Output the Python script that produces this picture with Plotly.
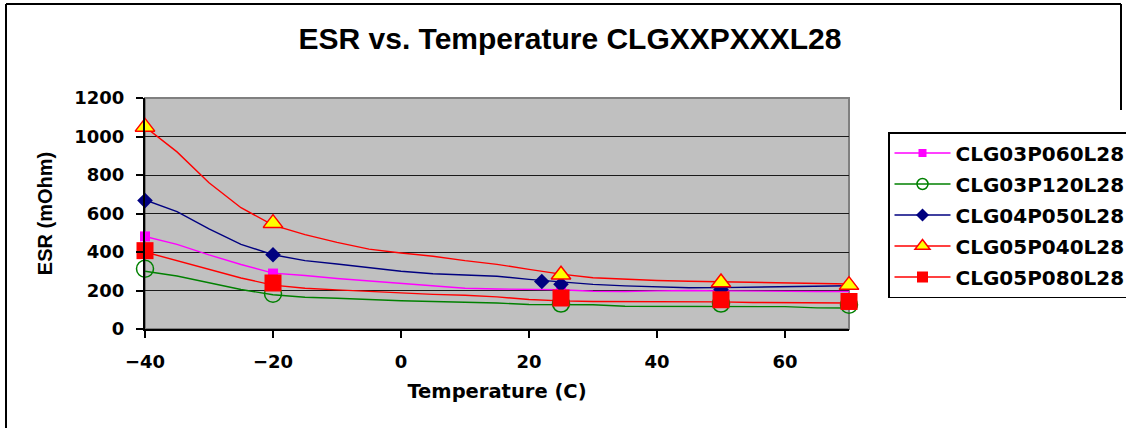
import plotly.graph_objects as go

# ---------------- data ----------------
temps = [-40, -35, -30, -25, -20, -15, -10, -5, 0, 5, 10, 15, 20, 25, 30, 35, 40, 45, 50, 55, 60, 65, 70]

line_03p060 = [481, 440, 385, 335, 290, 278, 262, 250, 238, 226, 212, 208, 206, 204, 196, 195, 198, 200, 198, 196, 195, 195, 195]
line_03p120 = [300, 275, 240, 205, 178, 165, 160, 152, 147, 143, 140, 135, 127, 126, 126, 118, 117, 117, 117, 117, 116, 110, 109]
line_04p050 = [670, 610, 520, 440, 386, 355, 338, 320, 300, 287, 280, 274, 258, 244, 232, 224, 220, 214, 215, 217, 218, 222, 225]
line_05p040 = [1050, 920, 760, 630, 540, 490, 450, 415, 395, 378, 355, 336, 310, 285, 266, 258, 252, 248, 246, 242, 239, 236, 234]
line_05p080 = [400, 355, 310, 265, 228, 212, 203, 195, 187, 180, 175, 167, 153, 146, 143, 143, 143, 143, 141, 138, 136, 135, 135]

pts_03p060_x = [-40, -20, 25]
pts_03p060_y = [481, 288, 205]
pts_03p120_x = [-40, -20, 25, 50, 70]
pts_03p120_y = [313, 183, 132, 132, 126]
pts_04p050_x = [-40, -20, 22, 25, 50]
pts_04p050_y = [667, 386, 247, 232, 205]
pts_05p040_x = [-40, -20, 25, 50, 70]
pts_05p040_y = [1050, 550, 282, 242, 228]
pts_05p080_x = [-40, -20, 25, 50, 70]
pts_05p080_y = [407, 239, 161, 152, 143]

names = ["CLG03P060L28", "CLG03P120L28", "CLG04P050L28", "CLG05P040L28", "CLG05P080L28"]
x_ticks = [-40, -20, 0, 20, 40, 60]
y_ticks = [0, 200, 400, 600, 800, 1000, 1200]

# ---------------- styles ----------------
styles = [
    dict(color="#ff00ff", symbol="square", size=10, fill="#ff00ff", lw=0, lsize=8),
    dict(color="#008000", symbol="circle-open", size=17, fill="#008000", lw=1.5, lsize=11),
    dict(color="#000080", symbol="diamond", size=12, fill="#000080", lw=0, lsize=10),
    dict(color="#ff0000", symbol="triangle-up", size=17, fill="#ffff00", lw=1.5, lsize=13),
    dict(color="#ff0000", symbol="square", size=17, fill="#ff0000", lw=0, lsize=11),
]
lines = [line_03p060, line_03p120, line_04p050, line_05p040, line_05p080]
pts = [
    (pts_03p060_x, pts_03p060_y),
    (pts_03p120_x, pts_03p120_y),
    (pts_04p050_x, pts_04p050_y),
    (pts_05p040_x, pts_05p040_y),
    (pts_05p080_x, pts_05p080_y),
]

fig = go.Figure()

for name, ys, st in zip(names, lines, styles):
    fig.add_trace(go.Scatter(
        x=temps, y=ys, mode="lines", name=name, legendgroup=name, showlegend=False,
        line=dict(color=st["color"], width=1.4), hoverinfo="skip"))

for name, (px, py), st in zip(names, pts, styles):
    fig.add_trace(go.Scatter(
        x=px, y=py, mode="markers", name=name, legendgroup=name, showlegend=False,
        cliponaxis=False,
        marker=dict(symbol=st["symbol"], size=st["size"], color=st["fill"],
                    line=dict(color=st["color"], width=st["lw"]))))

for name, st in zip(names, styles):
    fig.add_trace(go.Scatter(
        x=[None], y=[None], mode="lines+markers", name=name, legendgroup=name,
        line=dict(color=st["color"], width=1.4),
        marker=dict(symbol=st["symbol"], size=st["lsize"], color=st["fill"],
                    line=dict(color=st["color"], width=st["lw"]))))

W, H = 1126, 428
L, R, T, B = 145, 849, 98, 329
pw, ph = R - L, B - T


def px2x(p):
    return (p - L) / pw


def py2y(p):
    return (B - p) / ph


bold = dict(family="DejaVu Sans", weight="bold", color="black")

fig.update_layout(
    width=W, height=H,
    margin=dict(l=L, r=W - R, t=T, b=H - B, autoexpand=False),
    paper_bgcolor="white",
    plot_bgcolor="#c0c0c0",
    title=dict(text="ESR vs. Temperature CLGXXPXXXL28", x=570 / W, xref="container",
               xanchor="center", y=1 - 38 / H, yref="container", yanchor="middle",
               font=dict(family="Liberation Sans", weight="bold", size=30, color="black")),
    xaxis=dict(range=[-40, 70], tickvals=x_ticks, showgrid=False, zeroline=False,
               ticks="outside", ticklen=7, tickwidth=1.5, tickcolor="black",
               showline=True, linecolor="black", linewidth=2,
               tickfont=dict(size=18, **bold), ticklabelstandoff=8,
               title=dict(text="Temperature (C)", font=dict(size=19.5, **bold), standoff=14)),
    yaxis=dict(range=[0, 1200], tickvals=y_ticks, showgrid=True, gridcolor="#1a1a1a",
               gridwidth=1.3, zeroline=False,
               ticks="outside", ticklen=7, tickwidth=1.5, tickcolor="black",
               showline=True, linecolor="black", linewidth=2,
               tickfont=dict(size=18, **bold), ticklabelstandoff=8,
               title=dict(text="ESR (mOhm)",
                          font=dict(family="Liberation Sans", weight="bold", size=20, color="black"),
                          standoff=16)),
    legend=dict(x=px2x(888), y=py2y(132), xanchor="left", yanchor="top",
                xref="paper", yref="paper",
                bordercolor="black", borderwidth=1.5, bgcolor="white",
                font=dict(size=20, **bold), traceorder="grouped", tracegroupgap=2,
                itemwidth=56),
    showlegend=True,
    shapes=[
        dict(type="rect", xref="paper", yref="paper", x0=0, x1=1, y0=0, y1=1,
             line=dict(color="#808080", width=2), layer="below"),
        dict(type="line", xref="paper", yref="paper", x0=px2x(6), x1=px2x(6),
             y0=py2y(4), y1=py2y(H + 5), line=dict(color="black", width=2)),
        dict(type="line", xref="paper", yref="paper", x0=px2x(6), x1=px2x(1121),
             y0=py2y(4), y1=py2y(4), line=dict(color="black", width=2)),
        dict(type="line", xref="paper", yref="paper", x0=px2x(1121), x1=px2x(1121),
             y0=py2y(4), y1=py2y(110), line=dict(color="black", width=2)),
    ],
)

fig.write_html("out.html")
